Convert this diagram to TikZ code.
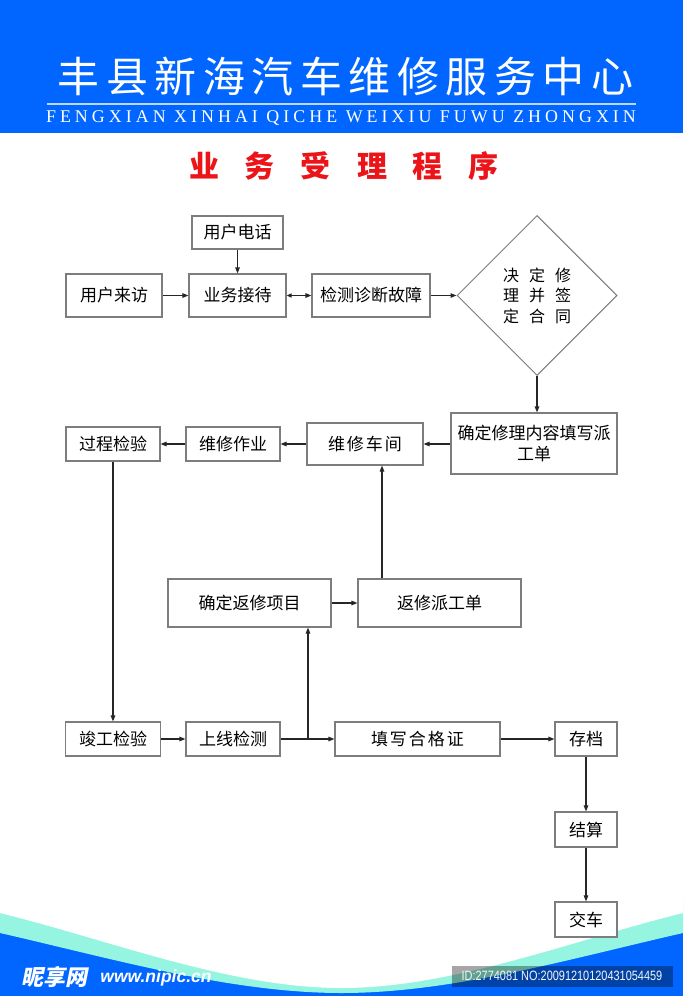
\documentclass[tikz,border=0pt]{standalone}
\usepackage{fontspec}
\setmainfont{Liberation Serif}
\newfontfamily\cjk{Noto Sans CJK SC}
\newfontfamily\cjkslant{Noto Sans CJK SC}[FakeSlant=0.2]
\newfontfamily\wmsans{Liberation Sans}
\usetikzlibrary{shapes.geometric,arrows.meta,calc}
\definecolor{hblue}{RGB}{0,102,255}
\definecolor{aqua}{RGB}{150,245,225}
\definecolor{tred}{RGB}{235,20,25}
\definecolor{bgray}{RGB}{125,125,125}
\definecolor{hline}{RGB}{190,215,255}
\begin{document}
\begin{tikzpicture}[x=1pt,y=-1pt,
  box/.style={draw=bgray,line width=1.1pt,fill=white,inner sep=0pt,
    font=\cjk\fontsize{17}{21}\selectfont,align=center},
  decision/.style={draw=bgray,line width=1pt,shape=diamond,aspect=1,inner sep=0pt,
    minimum width=160pt,minimum height=160pt,font=\cjk\fontsize{16}{20.5}\selectfont,align=center},
  arr/.style={line width=1.2pt,draw=black!85,-{Triangle[length=6pt,width=4.5pt]}},
  darr/.style={line width=1.2pt,draw=black!85,{Triangle[length=5pt,width=4pt]}-{Triangle[length=6pt,width=4.5pt]}}]
\useasboundingbox (0,0) rectangle (683,996);
\fill[white] (0,0) rectangle (683,996);
% header
\fill[hblue] (0,0) rectangle (683,133);
\node[text=white,inner sep=0pt,font=\cjk\fontsize{42}{42}\selectfont] (title) at (345.5,76)
  {丰\hspace{6.5pt}县\hspace{6.5pt}新\hspace{6.5pt}海\hspace{6.5pt}汽\hspace{6.5pt}车\hspace{6.5pt}维\hspace{6.5pt}修\hspace{6.5pt}服\hspace{6.5pt}务\hspace{6.5pt}中\hspace{6.5pt}心};
\draw[hline,line width=1.5pt] (47,104) -- (636,104);
\node[text=white,inner sep=0pt,font=\fontsize{17.9}{18}\selectfont\addfontfeature{LetterSpace=22.5}] (subtitle) at (341,118)
  {FENGXIAN XINHAI QICHE WEIXIU FUWU ZHONGXIN};
% red title
\node[text=tred,inner sep=0pt,font=\cjk\bfseries\fontsize{30}{30}\selectfont] (ptitle) at (344,166)
  {业\hspace{26pt}务\hspace{26pt}受\hspace{26pt}理\hspace{26pt}程\hspace{26pt}序};
% bottom wave
\fill[hblue] (0,900) rectangle (683,996);
\fill[aqua] (0,899) -- (0,933) .. controls (110,958) and (230,993) .. (341.5,993)
  .. controls (453,993) and (573,958) .. (683,933) -- (683,899) -- cycle;
\fill[white] (0,898) -- (0,913) .. controls (110,940) and (230,988) .. (341.5,988)
  .. controls (453,988) and (573,940) .. (683,913) -- (683,898) -- cycle;
% watermarks
\node[text=white,inner sep=0pt,font=\cjkslant\bfseries\fontsize{22}{22}\selectfont] (wm1) at (54,977) {昵享网};
\node[text=white,inner sep=0pt,font=\wmsans\bfseries\itshape\fontsize{17.5}{18}\selectfont] (wm2) at (156,978) {www.nipic.cn};
\fill[black,opacity=0.35] (452,966) rectangle (673,987);
\node[text=white!92!gray,inner sep=0pt,font=\wmsans\fontsize{13.5}{14}\selectfont] (wm3) at (562,976)
  {\scalebox{0.81}[1]{ID:2774081 NO:20091210120431054459}};
% boxes
\node[box,minimum width=91pt,minimum height=33pt] (tel) at (237.5,232.5) {用户电话};
\node[box,minimum width=96pt,minimum height=43pt] (visit) at (114,295.5) {用户来访};
\node[box,minimum width=97pt,minimum height=43pt] (recv) at (237.5,295.5) {业务接待};
\node[box,minimum width=118pt,minimum height=43pt] (diag) at (371,295.5) {检测诊断故障};
\node[decision] (dec) at (537,295.5)
  {决\hspace{10pt}定\hspace{10pt}修\\理\hspace{10pt}并\hspace{10pt}签\\定\hspace{10pt}合\hspace{10pt}同};
\node[box,minimum width=166pt,minimum height=61pt] (order) at (534,443.5) {确定修理内容填写派\\工单};
\node[box,minimum width=116pt,minimum height=42pt] (shop) at (365,444)
  {维\hspace{2pt}修\hspace{2pt}车\hspace{2pt}间};
\node[box,minimum width=94pt,minimum height=34pt] (work) at (233,444) {维修作业};
\node[box,minimum width=94pt,minimum height=34pt] (proc) at (113,444) {过程检验};
\node[box,minimum width=163pt,minimum height=48pt] (rdef) at (249.5,603) {确定返修项目};
\node[box,minimum width=163pt,minimum height=48pt] (rdis) at (439.5,603) {返修派工单};
\node[box,minimum width=95pt,minimum height=34pt] (final) at (113,739) {竣工检验};
\node[box,minimum width=94pt,minimum height=34pt] (online) at (233,739) {上线检测};
\node[box,minimum width=165pt,minimum height=34pt] (cert) at (417.5,739)
  {填\hspace{2pt}写\hspace{2pt}合\hspace{2pt}格\hspace{2pt}证};
\node[box,minimum width=62pt,minimum height=34pt] (arch) at (586,739) {存档};
\node[box,minimum width=62pt,minimum height=35pt] (settle) at (586,829.5) {结算};
\node[box,minimum width=62pt,minimum height=35pt] (deliver) at (586,919.5) {交车};
% connectors
\coordinate (br) at (308,739);
\draw[arr] (tel.south) -- (recv.north);
\draw[arr] (visit.east) -- (recv.west);
\draw[darr] (recv.east) -- (diag.west);
\draw[arr] (diag.east) -- (dec.west);
\draw[arr] (dec.south) -- (dec.south |- order.north);
\draw[arr] (order.west |- shop.east) -- (shop.east);
\draw[arr] (shop.west) -- (work.east);
\draw[arr] (work.west) -- (proc.east);
\draw[arr] (proc.south) -- (final.north);
\draw[arr] (final.east) -- (online.west);
\draw[arr] (online.east) -- (cert.west);
\draw[arr] (br) -- (br |- rdef.south);
\draw[arr] (rdef.east) -- (rdis.west);
\draw[arr] ([xshift=-57.5pt]rdis.north) -- ([xshift=-57.5pt]rdis.north |- shop.south);
\draw[arr] (cert.east) -- (arch.west);
\draw[arr] (arch.south) -- (settle.north);
\draw[arr] (settle.south) -- (deliver.north);
\end{tikzpicture}
\end{document}
